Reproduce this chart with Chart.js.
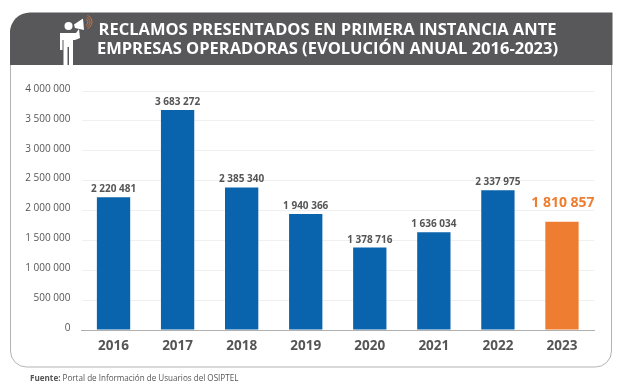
<!DOCTYPE html>
<html>
<head>
<meta charset="utf-8">
<style>
  html, body { margin: 0; padding: 0; background: #fff; }
  canvas { display: block; }
</style>
<script src="https://cdn.jsdelivr.net/npm/chart.js@4/dist/chart.umd.min.js"></script>
</head>
<body>
<canvas id="reclamosChart" width="620" height="390"></canvas>
<script>
const years = ["2016", "2017", "2018", "2019", "2020", "2021", "2022", "2023"];
const reclamos = [2220481, 3683272, 2385340, 1940366, 1378716, 1636034, 2337975, 1810857];
const barColors = ["#0a64ad", "#0a64ad", "#0a64ad", "#0a64ad", "#0a64ad", "#0a64ad", "#0a64ad", "#ef7d31"];
const titleLines = ["RECLAMOS PRESENTADOS EN PRIMERA INSTANCIA ANTE", "EMPRESAS OPERADORAS (EVOLUCIÓN ANUAL 2016-2023)"];

const FONT = '"Open Sans", sans-serif';

function formatNumber(n) {
  return String(n).replace(/\B(?=(\d{3})+(?!\d))/g, " ");
}

function drawMegaphoneMan(ctx) {
  ctx.fillStyle = "#fff";
  ctx.beginPath();
  ctx.arc(68.5, 26, 4, 0, Math.PI * 2);
  ctx.fill();
  // body and legs
  ctx.beginPath();
  ctx.moveTo(60, 33);
  ctx.lineTo(76, 33);
  ctx.lineTo(79, 29);
  ctx.lineTo(80, 38);
  ctx.lineTo(75, 40);
  ctx.lineTo(73, 40);
  ctx.lineTo(73, 65);
  ctx.lineTo(69, 65);
  ctx.lineTo(69, 47);
  ctx.lineTo(67.5, 47);
  ctx.lineTo(67.5, 65);
  ctx.lineTo(63.5, 65);
  ctx.lineTo(63.5, 40);
  ctx.lineTo(62.5, 40);
  ctx.lineTo(62.5, 50);
  ctx.lineTo(60, 50);
  ctx.closePath();
  ctx.fill();
  // megaphone
  ctx.beginPath();
  ctx.moveTo(74, 24.5);
  ctx.lineTo(83, 18.5);
  ctx.lineTo(84, 30);
  ctx.lineTo(75, 28);
  ctx.closePath();
  ctx.fill();
  // sound waves
  ctx.strokeStyle = "#e2793a";
  ctx.lineWidth = 0.8;
  [3, 5, 7].forEach(r => {
    ctx.beginPath();
    ctx.arc(85, 22, r, -Math.PI / 2.6, Math.PI / 2.6);
    ctx.stroke();
  });
}

const panelPlugin = {
  id: "panel",
  beforeDraw(chart) {
    const ctx = chart.ctx;
    ctx.save();
    ctx.fillStyle = "#fff";
    ctx.fillRect(0, 0, 620, 390);

    // card outline
    ctx.strokeStyle = "#b3b3b3";
    ctx.lineWidth = 1;
    ctx.beginPath();
    ctx.roundRect(10.5, 30, 601, 337, [0, 0, 16, 16]);
    ctx.stroke();

    // header band
    ctx.fillStyle = "#58585a";
    ctx.beginPath();
    ctx.roundRect(10, 12.5, 602.5, 52.5, [20, 0, 0, 0]);
    ctx.fill();

    drawMegaphoneMan(ctx);

    ctx.fillStyle = "#fff";
    ctx.font = "bold 16.5px " + FONT;
    ctx.textAlign = "center";
    ctx.textBaseline = "alphabetic";
    ctx.fillText(titleLines[0], 327.5, 35);
    ctx.fillText(titleLines[1], 327.5, 54);

    ctx.textAlign = "left";
    ctx.fillStyle = "#555";
    ctx.font = "bold 8.1px " + FONT;
    const fuente = "Fuente: ";
    ctx.fillText(fuente, 30, 380.5);
    const w = ctx.measureText(fuente).width;
    ctx.font = "8.1px " + FONT;
    ctx.fillText("Portal de Información de Usuarios del OSIPTEL", 30 + w, 380.5);
    ctx.restore();
  }
};

const valueLabels = {
  id: "valueLabels",
  afterDatasetsDraw(chart) {
    const ctx = chart.ctx;
    const bars = chart.getDatasetMeta(0).data;
    ctx.save();
    ctx.textAlign = "center";
    ctx.textBaseline = "alphabetic";
    bars.forEach((bar, i) => {
      const last = i === bars.length - 1;
      ctx.fillStyle = last ? "#ef7d31" : "#555";
      ctx.font = "bold " + (last ? 14 : 10) + "px " + FONT;
      ctx.fillText(formatNumber(reclamos[i]), bar.x + (last ? 1 : 0), bar.y - (last ? 14.5 : 5));
    });
    ctx.restore();
  }
};

new Chart(document.getElementById("reclamosChart"), {
  type: "bar",
  data: {
    labels: years,
    datasets: [{
      data: reclamos,
      backgroundColor: barColors,
      categoryPercentage: 1,
      barPercentage: 0.52
    }]
  },
  options: {
    responsive: false,
    animation: false,
    layout: { padding: { top: 91, right: 26, left: 0, bottom: 0 } },
    plugins: {
      legend: { display: false },
      title: { display: false },
      tooltip: { enabled: false }
    },
    scales: {
      x: {
        afterFit(scale) { scale.height = 60; },
        grid: { display: false },
        border: { color: "#b0b0b0", width: 1 },
        ticks: {
          color: "#555",
          padding: 0,
          font: { family: FONT, size: 13.5, weight: "bold" }
        }
      },
      y: {
        min: 0,
        max: 4000000,
        afterFit(scale) { scale.width = 81.5; },
        grid: { color: "#f0f0f0", drawTicks: false },
        border: { display: false },
        ticks: {
          stepSize: 500000,
          color: "#555",
          padding: 11,
          labelOffset: -2,
          font: { family: FONT, size: 10 },
          callback: v => formatNumber(v)
        }
      }
    }
  },
  plugins: [panelPlugin, valueLabels]
});
</script>
</body>
</html>
